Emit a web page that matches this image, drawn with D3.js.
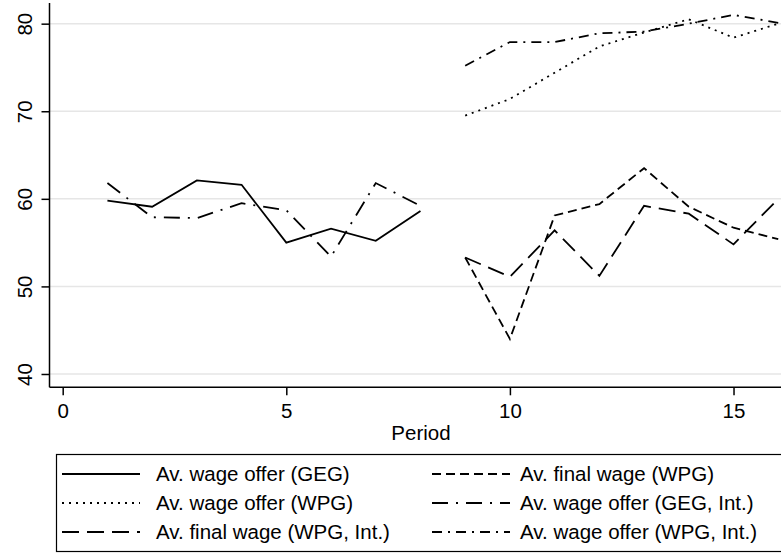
<!DOCTYPE html>
<html>
<head>
<meta charset="utf-8">
<script src="https://cdn.jsdelivr.net/npm/d3@7"></script>
<style>
  html, body { margin: 0; padding: 0; background: #fff; }
  svg { display: block; }
  text { font-family: "Liberation Sans", Arial, Helvetica, sans-serif; fill: #000; }
</style>
</head>
<body>
<div id="chart"></div>
<script>
// Periods for the two treatment blocks
const periodsA = [1, 2, 3, 4, 5, 6, 7, 8];
const periodsB = [9, 10, 11, 12, 13, 14, 15, 16];

// Average wages per period
const gegOffer    = [59.8, 59.1, 62.1, 61.6, 55.0, 56.6, 55.2, 58.6];
const gegIntOffer = [61.8, 57.9, 57.8, 59.5, 58.7, 53.4, 61.8, 59.2];
const wpgFinal    = [53.3, 44.0, 58.1, 59.4, 63.5, 59.1, 56.7, 55.4];
const wpgOffer    = [69.5, 71.4, 74.4, 77.4, 79.0, 80.5, 78.4, 80.0];
const wpgIntFinal = [53.3, 51.1, 56.4, 51.2, 59.2, 58.3, 54.8, 60.0];
const wpgIntOffer = [75.2, 77.9, 77.9, 78.9, 79.1, 80.0, 81.0, 80.1];

// Axis ticks
const xTicks = [0, 5, 10, 15];
const yTicks = [40, 50, 60, 70, 80];

// Series labels in legend order (left column, then right column per row)
const seriesNames = [
  "Av. wage offer (GEG)",
  "Av. final wage (WPG)",
  "Av. wage offer (WPG)",
  "Av. wage offer (GEG, Int.)",
  "Av. final wage (WPG, Int.)",
  "Av. wage offer (WPG, Int.)"
];

const W = 781, H = 553;
const plot = { left: 49.5, top: 3, right: 793, bottom: 387.3 };

const svg = d3.select("#chart").append("svg")
  .attr("width", W).attr("height", H);

const x = d3.scaleLinear().domain([-0.295, 16.33]).range([plot.left, plot.right]);
const y = d3.scaleLinear().domain([38.48, 82.36]).range([plot.bottom, plot.top]);

// Dash patterns for each series
const dashes = {
  "Av. wage offer (GEG)": null,
  "Av. final wage (WPG)": "9,5",
  "Av. wage offer (WPG)": "2,5",
  "Av. wage offer (GEG, Int.)": "16,8,2,8",
  "Av. final wage (WPG, Int.)": "17,8",
  "Av. wage offer (WPG, Int.)": "10,6,2,6"
};

const series = [
  { name: "Av. wage offer (GEG)",       xs: periodsA, ys: gegOffer },
  { name: "Av. wage offer (GEG, Int.)", xs: periodsA, ys: gegIntOffer },
  { name: "Av. final wage (WPG)",       xs: periodsB, ys: wpgFinal },
  { name: "Av. wage offer (WPG)",       xs: periodsB, ys: wpgOffer },
  { name: "Av. final wage (WPG, Int.)", xs: periodsB, ys: wpgIntFinal },
  { name: "Av. wage offer (WPG, Int.)", xs: periodsB, ys: wpgIntOffer }
];

// Horizontal grid lines
svg.append("g").selectAll("line").data(yTicks).join("line")
  .attr("x1", plot.left).attr("x2", plot.right)
  .attr("y1", d => y(d)).attr("y2", d => y(d))
  .attr("stroke", "#e6e6e6").attr("stroke-width", 1.5);

// Y axis
const yAxis = svg.append("g")
  .attr("transform", `translate(${plot.left},0)`)
  .call(d3.axisLeft(y).tickValues(yTicks).tickSize(8).tickPadding(0).tickFormat(d3.format("d")));
yAxis.select(".domain").attr("d", `M0,${plot.top}V${plot.bottom}`).attr("stroke", "#000").attr("stroke-width", 1.5);
yAxis.selectAll(".tick line").attr("stroke", "#000").attr("stroke-width", 1.5);
yAxis.selectAll(".tick text")
  .attr("font-size", 20.5)
  .attr("text-anchor", "middle")
  .attr("x", 0).attr("y", 0).attr("dy", 0)
  .attr("transform", "translate(-17.5,0) rotate(-90)");

// X axis
const xAxis = svg.append("g")
  .attr("transform", `translate(0,${plot.bottom})`)
  .call(d3.axisBottom(x).tickValues(xTicks).tickSize(8).tickPadding(6).tickFormat(d3.format("d")));
xAxis.select(".domain").attr("d", `M${plot.left},0H${plot.right}`).attr("stroke", "#000").attr("stroke-width", 1.5);
xAxis.selectAll(".tick line").attr("stroke", "#000").attr("stroke-width", 1.5);
xAxis.selectAll(".tick text").attr("font-size", 20.5).attr("dy", "0.8em");

svg.append("text")
  .attr("x", 421).attr("y", 440)
  .attr("text-anchor", "middle").attr("font-size", 20.5)
  .text("Period");

// Lines
const line = d3.line().x(d => x(d[0])).y(d => y(d[1]));
svg.append("g").selectAll("path").data(series).join("path")
  .attr("d", s => line(s.xs.map((p, i) => [p, s.ys[i]])))
  .attr("fill", "none")
  .attr("stroke", "#000")
  .attr("stroke-width", 1.8)
  .attr("stroke-linejoin", "miter")
  .attr("stroke-dasharray", s => dashes[s.name]);

// Legend
const legend = svg.append("g");
legend.append("rect")
  .attr("x", 56.5).attr("y", 454.5).attr("width", 740).attr("height", 97)
  .attr("fill", "#fff").attr("stroke", "#000").attr("stroke-width", 1.2);

const colX = [62, 432];
const textX = [94, 88];
const rowY = [474, 503, 532];
const items = legend.selectAll("g.item").data(seriesNames).join("g")
  .attr("class", "item")
  .attr("transform", (d, i) => `translate(${colX[i % 2]},${rowY[Math.floor(i / 2)]})`);
items.append("line")
  .attr("x1", 0).attr("x2", 78).attr("y1", 0).attr("y2", 0)
  .attr("stroke", "#000").attr("stroke-width", 1.8)
  .attr("stroke-dasharray", d => dashes[d]);
items.append("text")
  .attr("x", (d, i) => textX[i % 2]).attr("y", 0).attr("dy", "0.36em")
  .attr("font-size", 20.5)
  .text(d => d);
</script>
</body>
</html>
